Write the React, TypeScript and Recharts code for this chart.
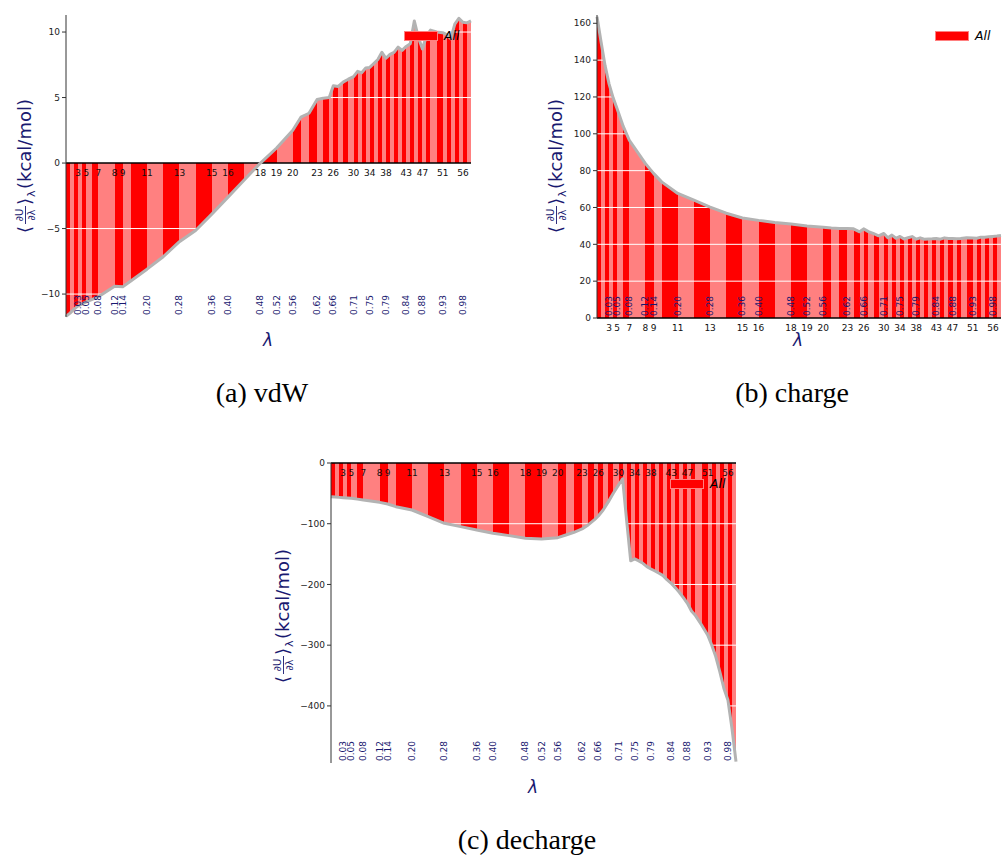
import React from "react"
import { Area, ComposedChart, Line, ReferenceLine, Scatter, XAxis, YAxis } from "recharts"

// lambda schedule (state index = position in the list)
const lambdas = [
  0, 0.01, 0.02, 0.03, 0.04, 0.05, 0.065, 0.08, 0.12, 0.14, 0.16, 0.2, 0.24, 0.28, 0.32, 0.36, 0.4, 0.44, 0.48,
  0.52, 0.56, 0.58, 0.6, 0.62, 0.635, 0.65, 0.66, 0.672, 0.685, 0.697, 0.71, 0.72, 0.73, 0.74, 0.75, 0.76, 0.77,
  0.78, 0.79, 0.8, 0.81, 0.82, 0.83, 0.84, 0.85, 0.86, 0.87, 0.88, 0.89, 0.9, 0.915, 0.93, 0.94, 0.95, 0.96, 0.97,
  0.98, 0.99, 1.0,
]

// states that get an index / lambda label
const labelledStates = [3, 5, 7, 8, 9, 11, 13, 15, 16, 18, 19, 20, 23, 26, 30, 34, 38, 43, 47, 51, 56]

// <dU/dlambda> per state, kcal/mol
const vdwValues = [
  -11.7, -11.45, -11.15, -10.9, -10.75, -10.6, -10.4, -10.2, -9.4, -9.45, -9.0, -8.1, -7.15, -6.0, -5.15, -3.9,
  -2.6, -1.3, 0.0, 1.15, 2.5, 3.5, 3.8, 4.85, 4.95, 5.0, 5.9, 5.85, 6.2, 6.4, 6.6, 7.0, 6.9, 7.25, 7.3, 7.6, 7.9,
  8.45, 8.0, 8.3, 8.45, 8.85, 8.6, 8.9, 9.1, 10.85, 9.6, 8.7, 9.7, 10.15, 10.0, 9.95, 9.8, 9.5, 10.6, 11.05,
  10.75, 10.7, 10.85,
]

const chargeValues = [
  163.5, 150, 137, 127, 119.5, 113.5, 104, 96.5, 83.8, 78.5, 73.9, 67.6, 64.0, 60.2, 56.9, 54.3, 53.0, 51.9, 51.0,
  50.0, 49.3, 48.9, 48.6, 48.6, 48.4, 46.8, 48.4, 46.9, 45.8, 44.6, 45.9, 43.6, 45.0, 43.3, 44.3, 42.9, 43.6,
  44.2, 42.8, 43.5, 42.8, 42.9, 43.0, 43.2, 42.8, 43.5, 43.2, 43.1, 43.0, 43.2, 43.6, 43.4, 43.3, 43.9, 43.8,
  44.1, 44.3, 44.5, 44.8,
]

const dechargeValues = [
  -55.4, -56, -56.6, -57.1, -57.6, -58.2, -59.5, -60.9, -64.8, -67.5, -71.9, -77.4, -88.3, -99.3, -104.8, -110.3,
  -115.8, -119.6, -124, -125.1, -122.9, -118.5, -114.1, -108.6, -102, -93.8, -87.2, -77.4, -63.6, -49.9, -36.2,
  -26, -95, -161, -158, -161.3, -165.2, -170.6, -174.5, -177.8, -181.6, -185.5, -192.6, -198.1, -205.2, -212.9,
  -221.7, -231, -243.6, -251.3, -266.7, -283.1, -299.6, -318.8, -343.5, -370.9, -390.1, -436.7, -491.7,
]

const vdwTicks = [-10, -5, 0, 5, 10]
const chargeTicks = [0, 20, 40, 60, 80, 100, 120, 140, 160]
const dechargeTicks = [-400, -300, -200, -100, 0]

const RED = "#ff0000"
const LIGHT = "#ff8080"
const NAVY = "#191970"
const SANS = "DejaVu Sans, sans-serif"

const fmtTick = (v: number) => (v < 0 ? `\u2212${Math.abs(v)}` : `${v}`)

const IndexText = (props: any) => (
  <text x={props.cx} y={props.cy + 13} textAnchor="middle" fontSize={9} fill="#111" fontFamily={SANS}>
    {props.payload.text}
  </text>
)

const LambdaText = (props: any) => (
  <text
    transform={`translate(${props.cx},${props.cy - 2}) rotate(-90)`}
    dominantBaseline="central"
    fontSize={9}
    fill={NAVY}
    fontFamily={SANS}
  >
    {props.payload.text}
  </text>
)

type StageProps = {
  id: string
  values: number[]
  domain: [number, number]
  ticks: number[]
  width: number
  height: number
  margin: { top: number; right: number; bottom: number; left: number }
}

function StageChart({ id, values, domain, ticks, width, height, margin }: StageProps) {
  const data = lambdas.map((lam, i) => ({ lam, v: values[i] }))
  const indexMarks = labelledStates.map((i) => ({ lam: lambdas[i], y: 0, text: String(i) }))
  const lambdaMarks = labelledStates.map((i) => ({ lam: lambdas[i], y: domain[0], text: lambdas[i].toFixed(2) }))

  // alternate full / half-transparent red between neighbouring states
  const stops: React.ReactNode[] = []
  for (let i = 0; i < lambdas.length - 1; i++) {
    const c = i % 2 === 0 ? RED : LIGHT
    stops.push(<stop key={`${i}a`} offset={lambdas[i]} stopColor={c} />)
    stops.push(<stop key={`${i}b`} offset={lambdas[i + 1]} stopColor={c} />)
  }

  return (
    <ComposedChart width={width} height={height} margin={margin} data={data}>
      <defs>
        <linearGradient id={id} x1="0" y1="0" x2="1" y2="0">
          {stops}
        </linearGradient>
      </defs>
      <XAxis type="number" dataKey="lam" domain={[0, 1]} hide />
      <YAxis
        type="number"
        domain={domain}
        ticks={ticks}
        interval={0}
        width={66}
        tickSize={4}
        tickMargin={2}
        tickFormatter={fmtTick}
        tick={{ fontSize: 9, fill: "#222", fontFamily: SANS }}
        tickLine={{ stroke: "#333" }}
        axisLine={{ stroke: "#333" }}
      />
      <Area
        dataKey="v"
        type="linear"
        baseValue={0}
        stroke="none"
        fill={`url(#${id})`}
        fillOpacity={1}
        isAnimationActive={false}
      />
      {ticks
        .filter((t) => t !== 0)
        .map((t) => (
          <ReferenceLine key={t} y={t} stroke="#ffffff" strokeWidth={1} />
        ))}
      <ReferenceLine y={0} stroke="#000" strokeWidth={1.5} />
      <Line
        dataKey="v"
        type="linear"
        stroke="#b3b3b3"
        strokeWidth={3}
        strokeLinejoin="round"
        dot={false}
        isAnimationActive={false}
      />
      <Scatter data={indexMarks} dataKey="y" shape={IndexText} isAnimationActive={false} />
      <Scatter data={lambdaMarks} dataKey="y" shape={LambdaText} isAnimationActive={false} />
    </ComposedChart>
  )
}

// rotated "<dU/dlambda>_lambda (kcal/mol)"
function YTitle({ left, top }: { left: number; top: number }) {
  return (
    <svg width={44} height={150} style={{ position: "absolute", left, top, overflow: "visible" }}>
      <g transform="translate(31,145) rotate(-90)" fill={NAVY} fontFamily={SANS}>
        <text x={0} y={0} fontSize={18}>
          {"\u27E8"}
        </text>
        <text x={18} y={-8} fontSize={10} textAnchor="middle">
          ∂U
        </text>
        <line x1={9} x2={27} y1={-5.5} y2={-5.5} stroke={NAVY} strokeWidth={0.9} />
        <text x={18} y={4} fontSize={10} textAnchor="middle">
          ∂λ
        </text>
        <text x={28} y={0} fontSize={18}>
          {"\u27E9"}
        </text>
        <text x={36} y={4} fontSize={11}>
          λ
        </text>
        <text x={44} y={0} fontSize={18}>
          (kcal/mol)
        </text>
      </g>
    </svg>
  )
}

function Legend({ left, top }: { left: number; top: number }) {
  return (
    <div style={{ position: "absolute", left, top, display: "flex", alignItems: "center" }}>
      <div style={{ width: 32, height: 8, background: RED, border: `1px solid ${LIGHT}` }} />
      <span style={{ marginLeft: 6, fontFamily: SANS, fontStyle: "italic", fontSize: 12.5, color: "#000" }}>All</span>
    </div>
  )
}

function XTitle({ cx, cy }: { cx: number; cy: number }) {
  return (
    <div
      style={{
        position: "absolute",
        left: cx - 20,
        top: cy - 10,
        width: 40,
        lineHeight: "20px",
        textAlign: "center",
        fontFamily: SANS,
        fontStyle: "italic",
        fontSize: 17,
        color: NAVY,
      }}
    >
      λ
    </div>
  )
}

function Caption({ cx, cy, text }: { cx: number; cy: number; text: string }) {
  return (
    <div
      style={{
        position: "absolute",
        left: cx - 120,
        top: cy - 15,
        width: 240,
        lineHeight: "30px",
        textAlign: "center",
        fontFamily: "Liberation Serif, serif",
        fontSize: 28,
        color: "#000",
      }}
    >
      {text}
    </div>
  )
}

export default function App() {
  return (
    <div style={{ position: "absolute", left: 0, top: 0, width: 1003, height: 857, background: "#fff", overflow: "hidden" }}>
      <div style={{ position: "absolute", left: 0, top: 0 }}>
        <StageChart
          id="stripeVdw"
          values={vdwValues}
          domain={[-11.75, 11.3]}
          ticks={vdwTicks}
          width={480}
          height={320}
          margin={{ top: 15, right: 9, bottom: 3, left: 0 }}
        />
      </div>
      <div style={{ position: "absolute", left: 531, top: 0 }}>
        <StageChart
          id="stripeCharge"
          values={chargeValues}
          domain={[0, 164.5]}
          ticks={chargeTicks}
          width={472}
          height={340}
          margin={{ top: 15, right: 2, bottom: 22, left: 0 }}
        />
      </div>
      <div style={{ position: "absolute", left: 265, top: 450 }}>
        <StageChart
          id="stripeDecharge"
          values={dechargeValues}
          domain={[-494, 0]}
          ticks={dechargeTicks}
          width={475}
          height={316}
          margin={{ top: 13, right: 4, bottom: 3, left: 0 }}
        />
      </div>

      <YTitle left={0} top={88} />
      <YTitle left={531} top={88} />
      <YTitle left={258} top={538} />

      <XTitle cx={268} cy={340} />
      <XTitle cx={798} cy={340} />
      <XTitle cx={533} cy={787} />

      <Legend left={404} top={28} />
      <Legend left={935} top={28} />
      <Legend left={670} top={476} />

      <Caption cx={262} cy={393} text="(a) vdW" />
      <Caption cx={792} cy={393} text="(b) charge" />
      <Caption cx={527} cy={840} text="(c) decharge" />
    </div>
  )
}
